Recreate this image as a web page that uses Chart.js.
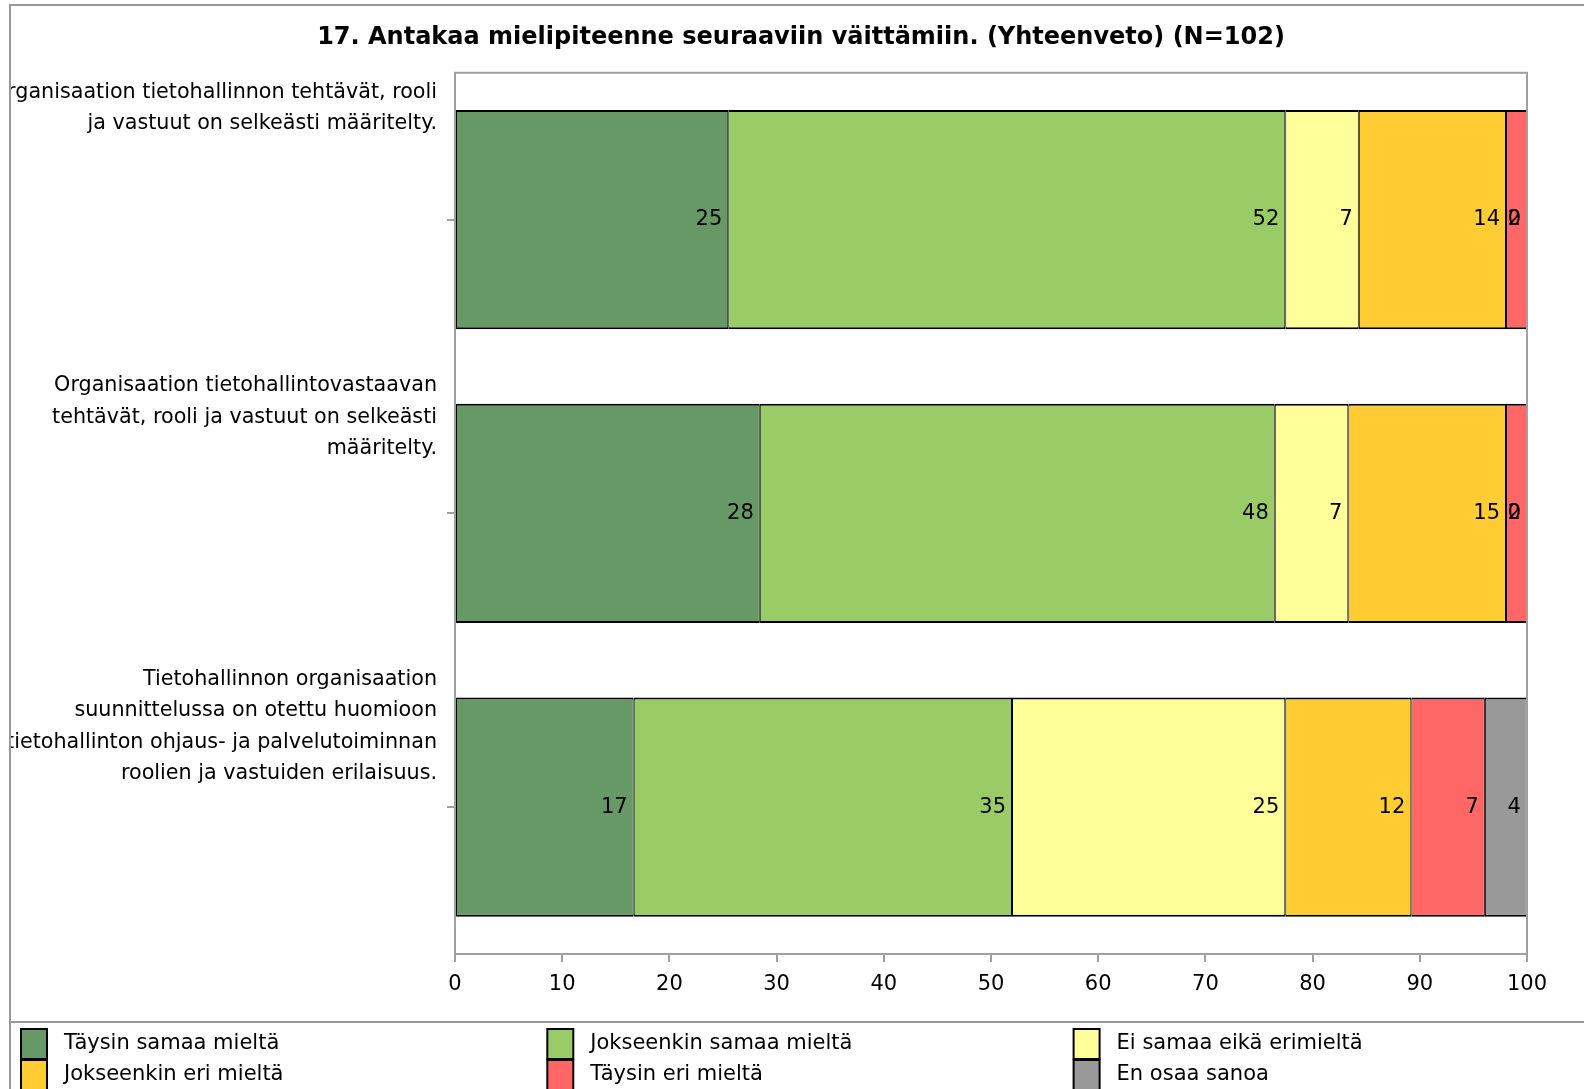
<!DOCTYPE html>
<html>
<head>
<meta charset="utf-8">
<script src="https://cdn.jsdelivr.net/npm/chart.js@4.4.1/dist/chart.umd.min.js"></script>
<style>
html,body{margin:0;padding:0;background:#fff;}
#wrap{width:1584px;height:1089px;position:relative;}
</style>
</head>
<body>
<div id="wrap"><canvas id="c" width="1584" height="1089"></canvas></div>
<script>
const titleText = "17. Antakaa mielipiteenne seuraaviin väittämiin. (Yhteenveto) (N=102)";
const categories = [
  ["Organisaation tietohallinnon tehtävät, rooli", "ja vastuut on selkeästi määritelty."],
  ["Organisaation tietohallintovastaavan", "tehtävät, rooli ja vastuut on selkeästi", "määritelty."],
  ["Tietohallinnon organisaation", "suunnittelussa on otettu huomioon", "tietohallinton ohjaus- ja palvelutoiminnan", "roolien ja vastuiden erilaisuus."]
];
const seriesNames = ["Täysin samaa mieltä", "Jokseenkin samaa mieltä", "Ei samaa eikä erimieltä", "Jokseenkin eri mieltä", "Täysin eri mieltä", "En osaa sanoa"];
const seriesColors = ["#669966", "#99CC66", "#FFFF99", "#FFCC33", "#FF6666", "#999999"];
const taysinSamaa = [25.49, 28.43, 16.67];
const jokseenkinSamaa = [51.96, 48.04, 35.29];
const eiSamaaEika = [6.86, 6.86, 25.49];
const jokseenkinEri = [13.73, 14.71, 11.76];
const taysinEri = [1.96, 1.96, 6.86];
const enOsaa = [0, 0, 3.92];
const xTicks = [0, 10, 20, 30, 40, 50, 60, 70, 80, 90, 100];

const seriesValues = [taysinSamaa, jokseenkinSamaa, eiSamaaEika, jokseenkinEri, taysinEri, enOsaa];
const FONT = "'DejaVu Sans', sans-serif";

const framePlugin = {
  id: 'frame',
  beforeDraw(chart) {
    const ctx = chart.ctx;
    ctx.save();
    ctx.fillStyle = '#fff';
    ctx.fillRect(0, 0, chart.width, chart.height);
    ctx.strokeStyle = '#999999';
    ctx.lineWidth = 2;
    ctx.beginPath();
    ctx.moveTo(10, 1089); ctx.lineTo(10, 5); ctx.lineTo(1584, 5);
    ctx.moveTo(10, 1022); ctx.lineTo(1584, 1022);
    ctx.stroke();
    ctx.restore();
  },
  afterDraw(chart) {
    const ctx = chart.ctx;
    const a = chart.chartArea;
    ctx.save();
    ctx.strokeStyle = '#a0a0a0';
    ctx.lineWidth = 2;
    ctx.strokeRect(a.left, a.top, a.right - a.left, a.bottom - a.top);
    // y category labels (top aligned in band)
    const ys = chart.scales.y;
    const band = (ys.bottom - ys.top) / categories.length;
    ctx.beginPath();
    ctx.rect(11, 0, 1584, 1089);
    ctx.clip();
    ctx.fillStyle = '#000';
    ctx.font = "20.7px " + FONT;
    ctx.textAlign = 'right';
    ctx.textBaseline = 'middle';
    categories.forEach((lines, i) => {
      const top = ys.getPixelForValue(i) - band / 2;
      lines.forEach((ln, j) => {
        ctx.fillText(ln, a.left - 18, top + 19.5 + j * 31.3);
      });
    });
    ctx.restore();
    // legend
    ctx.save();
    ctx.font = "21px " + FONT;
    ctx.textAlign = 'left';
    ctx.textBaseline = 'middle';
    chart.data.datasets.forEach((ds, i) => {
      const col = i % 3, row = Math.floor(i / 3);
      const x = 21 + col * 526.3;
      const y = 1029 + row * 31;
      ctx.fillStyle = ds.backgroundColor;
      ctx.fillRect(x, y, 26, 30);
      ctx.strokeStyle = '#000';
      ctx.lineWidth = 2;
      ctx.strokeRect(x, y, 26, 30);
      ctx.fillStyle = '#000';
      ctx.fillText(ds.label, x + 43, y + 15);
    });
    ctx.restore();
  },
  afterDatasetsDraw(chart) {
    const ctx = chart.ctx;
    ctx.save();
    ctx.font = "21px " + FONT;
    ctx.fillStyle = '#000';
    ctx.textAlign = 'right';
    ctx.textBaseline = 'middle';
    chart.data.datasets.forEach((ds, i) => {
      const meta = chart.getDatasetMeta(i);
      meta.data.forEach((bar, j) => {
        ctx.fillText(String(Math.round(ds.data[j])), bar.x - 6, bar.y);
      });
    });
    ctx.restore();
  }
};

new Chart(document.getElementById('c'), {
  type: 'bar',
  data: {
    labels: categories.map(c => c.join(' ')),
    datasets: seriesNames.map((n, i) => ({
      label: n,
      data: seriesValues[i],
      backgroundColor: seriesColors[i],
      borderColor: '#000',
      borderWidth: { top: 2, bottom: 2, left: 1, right: 1 },
      borderSkipped: false,
      barPercentage: 0.746,
      categoryPercentage: 1
    }))
  },
  options: {
    indexAxis: 'y',
    responsive: false,
    animation: false,
    devicePixelRatio: 1,
    layout: { padding: { top: 14, right: 57, bottom: 75, left: 75 } },
    plugins: {
      legend: { display: false },
      tooltip: { enabled: false },
      title: {
        display: true,
        text: titleText,
        color: '#000',
        font: { family: FONT, size: 24, weight: 'bold' },
        padding: { top: 9, bottom: 21 }
      }
    },
    scales: {
      x: {
        stacked: true,
        min: 0, max: 100,
        afterFit(s) { s.height = 60; },
        afterBuildTicks(s) { s.ticks = xTicks.map(v => ({ value: v })); },
        grid: { display: true, drawOnChartArea: false, drawTicks: true, tickLength: 8, color: '#a0a0a0', lineWidth: 2 },
        border: { display: false },
        ticks: { color: '#000', font: { family: FONT, size: 21 }, padding: 10, maxRotation: 0 }
      },
      y: {
        stacked: true,
        afterFit(s) { s.width = 380; },
        grid: { display: true, offset: false, drawOnChartArea: false, drawTicks: true, tickLength: 8, color: '#a0a0a0', lineWidth: 2 },
        border: { display: false },
        ticks: { display: false }
      }
    }
  },
  plugins: [framePlugin]
});
</script>
</body>
</html>
